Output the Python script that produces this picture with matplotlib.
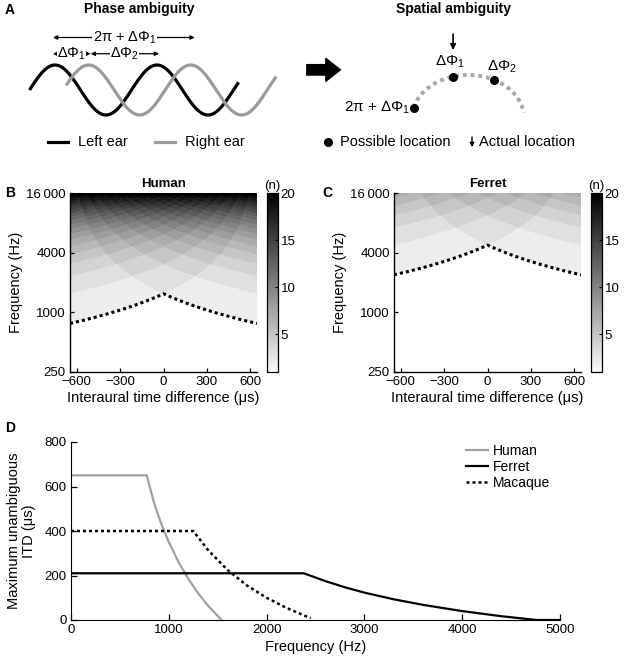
import numpy as np
import matplotlib
matplotlib.use("Agg")
import matplotlib.pyplot as plt
from matplotlib.colors import LinearSegmentedColormap

plt.rcParams['font.family'] = ['Liberation Sans', 'DejaVu Sans']
plt.rcParams['mathtext.fontset'] = 'custom'
plt.rcParams['mathtext.rm'] = 'Liberation Sans'
plt.rcParams['mathtext.it'] = 'Liberation Sans:italic'

W, H = 626, 663

# head size (maximum ITD, us) per species
human_itd_max = 650
ferret_itd_max = 210
macaque_itd_max = 400

freq_ticks = [250, 1000, 4000, 16000]
freq_ticklabels = ['250', '1000', '4000', '16\u2009000']
itd_ticks = [-600, -300, 0, 300, 600]
cbar_ticks = [5, 10, 15, 20]

# panel D
human_f = [0, 775, 850, 925, 1000, 1100, 1200, 1300, 1400, 1540]
human_itd = [650, 650, 525, 430, 350, 260, 185, 120, 65, 0]
ferret_f = [0, 2380, 2600, 2800, 3000, 3300, 3600, 4000, 4400, 4760, 5000]
ferret_itd = [210, 210, 175, 147, 123, 93, 68, 40, 17, 0, 0]
macaque_f = [0, 1250, 1400, 1600, 1800, 2000, 2200, 2450]
macaque_itd = [400, 400, 315, 225, 155, 100, 55, 8]


def px_axes(x0, y0, x1, y1):
    return fig.add_axes([x0 / W, 1 - y1 / H, (x1 - x0) / W, (y1 - y0) / H])


fig = plt.figure(figsize=(W / 100, H / 100), dpi=100)

# ---------------- panel A, phase ambiguity ----------------
axal = px_axes(0, 0, 300, 165)
axal.set_xlim(-0.289, 2.652)
axal.set_ylim(-3.0, 3.6)
axal.axis('off')

t = np.linspace(0, 2.05, 300)
axal.plot(t, np.sin(2 * np.pi * t), color='black', lw=2.3, solid_capstyle='butt')
tg = np.linspace(0.36, 2.42, 300)
axal.plot(tg, np.sin(2 * np.pi * (tg - 0.33)), color='#9a9a9a', lw=2.3, solid_capstyle='butt')

arrow = dict(arrowstyle='<|-|>', color='black', lw=0.9, mutation_scale=6, shrinkA=0, shrinkB=0)
row1, row2 = 2.1, 1.45
axal.annotate('', xy=(1.62, row1), xytext=(0.23, row1), arrowprops=arrow)
axal.text(0.93, row1, '2π + ΔΦ$_1$', ha='center', va='center', fontsize=10.5,
          bbox=dict(facecolor='white', edgecolor='none', pad=0.3))
axal.annotate('', xy=(0.60, row2), xytext=(0.23, row2), arrowprops=arrow)
axal.annotate('', xy=(1.27, row2), xytext=(0.60, row2), arrowprops=arrow)
axal.text(0.415, row2, 'ΔΦ$_1$', ha='center', va='center', fontsize=10.5,
          bbox=dict(facecolor='white', edgecolor='none', pad=0.1))
axal.text(0.935, row2, 'ΔΦ$_2$', ha='center', va='center', fontsize=10.5,
          bbox=dict(facecolor='white', edgecolor='none', pad=0.1))

axal.plot([0.181, 0.377], [-2.08, -2.08], color='black', lw=2.3)
axal.text(0.475, -2.08, 'Left ear', va='center', fontsize=10.5)
axal.plot([1.23, 1.43], [-2.08, -2.08], color='#9a9a9a', lw=2.3)
axal.text(1.525, -2.08, 'Right ear', va='center', fontsize=10.5)

fig.text(5 / W, 1 - 10 / H, 'A', fontsize=10, fontweight='bold', va='center')
fig.text(139 / W, 1 - 9 / H, 'Phase ambiguity', fontsize=10, fontweight='bold',
         ha='center', va='center')
fig.text(453 / W, 1 - 9 / H, 'Spatial ambiguity', fontsize=10, fontweight='bold',
         ha='center', va='center')

# ---------------- panel A, spatial ambiguity ----------------
axar = px_axes(290, 0, 626, 165)
axar.set_xlim(-3.18, 2.82)
axar.set_ylim(-1.093, 2.744)
axar.axis('off')

arc = np.radians(np.linspace(166, 7, 200))
axar.plot(np.cos(arc), np.sin(arc), color='#a8a8a8', lw=2.8, linestyle=(0, (1, 1)))
loc_deg = np.radians([166, 106, 62])
axar.plot(np.cos(loc_deg), np.sin(loc_deg), 'o', color='black', ms=5.5)
axar.text(-0.32, 1.30, 'ΔΦ$_1$', ha='center', va='center', fontsize=11)
axar.text(0.34, 1.19, 'ΔΦ$_2$', ha='left', va='center', fontsize=11)
axar.text(-1.04, 0.23, '2π + ΔΦ$_1$', ha='right', va='center', fontsize=11)
axar.annotate('', xy=(-0.268, 1.58), xytext=(-0.268, 1.95),
              arrowprops=dict(arrowstyle='-|>', color='black', lw=1.2, mutation_scale=8,
                              shrinkA=0, shrinkB=0))
axar.annotate('', xy=(-2.28, 1.12), xytext=(-2.88, 1.12),
              arrowprops=dict(arrowstyle='simple,head_length=0.7,head_width=1.1,tail_width=0.5',
                              color='black', mutation_scale=15, shrinkA=0, shrinkB=0))

axar.plot([-2.5], [-0.56], 'o', color='black', ms=5.5)
axar.text(-2.29, -0.56, 'Possible location', va='center', fontsize=10.5)
axar.annotate('', xy=(0.07, -0.68), xytext=(0.07, -0.44),
              arrowprops=dict(arrowstyle='-|>', color='black', lw=1.0, mutation_scale=6,
                              shrinkA=0, shrinkB=0))
axar.text(0.2, -0.56, 'Actual location', va='center', fontsize=10.5)

# ---------------- panels B and C, heat maps ----------------
cmap = LinearSegmentedColormap.from_list('ambig', [(0.98, 0.98, 0.98), (0, 0, 0)])
cmap.set_bad('white')

tau = np.linspace(-645, 645, 600)
freq = np.geomspace(250, 16000, 600)
TT, FF = np.meshgrid(tau, freq)


def ambiguity_panel(ax, cax, itd_max, title, letter, letter_x):
    te = TT * itd_max / human_itd_max
    period = 1e6 / FF
    n = np.floor((itd_max - te) / period) + np.floor((itd_max + te) / period) + 1
    n = np.ma.masked_where(n <= 1, n)
    mesh = ax.pcolormesh(tau, freq, n, cmap=cmap, vmin=1, vmax=20, shading='auto',
                         rasterized=True)
    edge = 1e6 / (itd_max + np.abs(tau * itd_max / human_itd_max))
    ax.plot(tau, edge, color='black', lw=2.2, linestyle=(0, (1, 1)))
    ax.set_yscale('log')
    ax.set_ylim(250, 16000)
    ax.set_xlim(-645, 645)
    ax.set_yticks(freq_ticks)
    ax.set_yticklabels(freq_ticklabels)
    ax.minorticks_off()
    ax.set_xticks(itd_ticks)
    ax.tick_params(direction='in', length=3, width=0.9, labelsize=9.5, pad=3)
    for s in ['top', 'right']:
        ax.spines[s].set_visible(False)
    for s in ['left', 'bottom']:
        ax.spines[s].set_linewidth(1.0)
    ax.set_xlabel('Interaural time difference (μs)', fontsize=10.5, labelpad=2)
    ax.set_ylabel('Frequency (Hz)', fontsize=10.5, labelpad=2)
    ax.set_title(title, fontsize=9.5, fontweight='bold', pad=4)

    cb = fig.colorbar(mesh, cax=cax, ticks=cbar_ticks)
    cb.ax.tick_params(direction='in', length=2.5, width=0.8, labelsize=9.5, pad=2)
    cb.outline.set_linewidth(0.9)
    cax.set_title('(n)', fontsize=9.5, pad=3)
    fig.text(letter_x / W, 1 - 193 / H, letter, fontsize=10, fontweight='bold', va='center')


axb = px_axes(70, 193, 257, 372)
caxb = px_axes(267, 193, 278, 372)
ambiguity_panel(axb, caxb, human_itd_max, 'Human', 'B', 5)

axc = px_axes(394, 193, 581, 372)
caxc = px_axes(591, 193, 602, 372)
ambiguity_panel(axc, caxc, ferret_itd_max, 'Ferret', 'C', 322)

# ---------------- panel D ----------------
axd = px_axes(71, 442, 560, 620)
axd.plot(human_f, human_itd, color='#a0a0a0', lw=1.6, label='Human')
axd.plot(ferret_f, ferret_itd, color='black', lw=1.6, label='Ferret')
axd.plot(macaque_f, macaque_itd, color='black', lw=1.8, linestyle=(0, (1.2, 1.2)),
         label='Macaque')
axd.set_xlim(0, 5000)
axd.set_ylim(0, 800)
axd.set_xticks(range(0, 5001, 1000))
axd.set_yticks(range(0, 801, 200))
axd.tick_params(direction='in', length=4, width=0.9, labelsize=9.5, pad=3)
for s in ['top', 'right']:
    axd.spines[s].set_visible(False)
axd.set_xlabel('Frequency (Hz)', fontsize=10.5, labelpad=3)
axd.set_ylabel('Maximum unambiguous\nITD (μs)', fontsize=10.5, labelpad=6, linespacing=1.1)
axd.legend(loc='upper left', bbox_to_anchor=(466 / W, 1 - 444 / H),
           bbox_transform=fig.transFigure, frameon=False, fontsize=10,
           handlelength=1.6, handletextpad=0.3, labelspacing=0.15, borderpad=0,
           borderaxespad=0)
fig.text(5 / W, 1 - 428 / H, 'D', fontsize=10, fontweight='bold', va='center')

fig.savefig('out.png', dpi=100)
